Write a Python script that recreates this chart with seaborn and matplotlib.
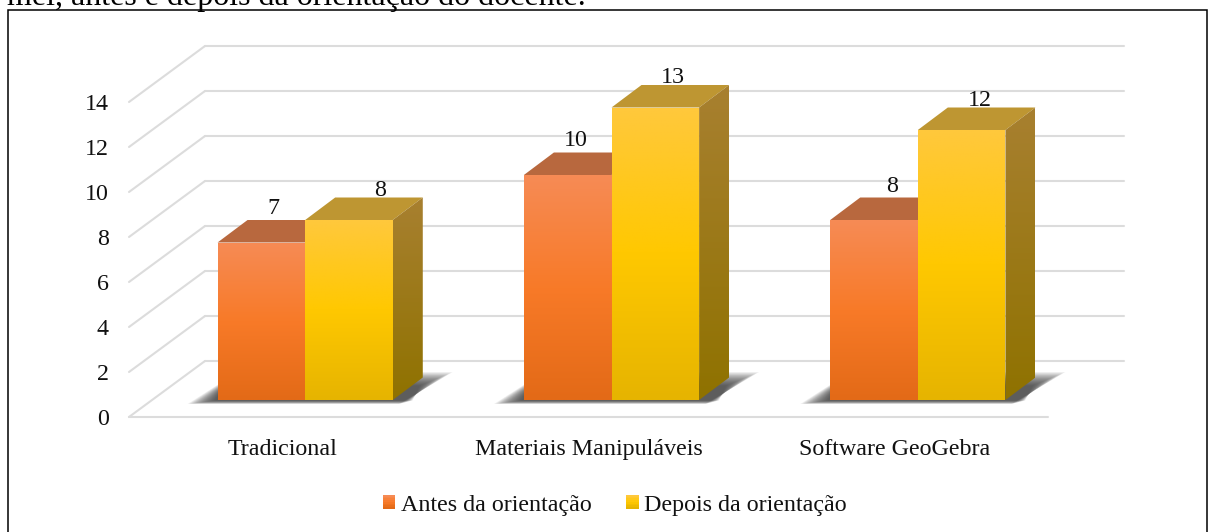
import numpy as np
import pandas as pd
import matplotlib
matplotlib.use('Agg')
import matplotlib.pyplot as plt
from matplotlib.colors import LinearSegmentedColormap
from matplotlib.legend_handler import HandlerBase
from matplotlib.lines import Line2D
from matplotlib.patches import Polygon, Rectangle
from matplotlib.transforms import IdentityTransform
import seaborn as sns

categories = ['Tradicional', 'Materiais Manipuláveis', 'Software GeoGebra']
series_names = ['Antes da orientação', 'Depois da orientação']
antes = [7, 10, 8]
depois = [8, 13, 12]
y_ticks = [0, 2, 4, 6, 8, 10, 12, 14]
caption = 'mel, antes e depois da orientação do docente.'

W, H = 1213, 532
GRID = '#DCDCDC'
FS = 17.3

# depth of the fake 3d box, in pixels
WALL = (76, 56)
BAR_FRONT = (23, 17)
BAR_DEPTH = (30, 22.5)

# front, side and top colours of each series
front_cols = [['#F68B55', '#F87A28', '#E36A17'], ['#FFC83C', '#FFC800', '#E6B400']]
side_cols = [['#B5673C', '#8A4A14'], ['#A88030', '#8F7200']]
top_cols = ['#B8683E', '#BE9632']

# little moves of the value labels
label_shift = [(-3, 6), (-7, 6), (3, 6), (16, 2), (3, 2), (3, 2)]

sns.set_theme(style='white')
plt.rcParams['font.family'] = ['Liberation Serif', 'DejaVu Serif']

df = pd.DataFrame({
    'cat': categories * 2,
    'serie': [series_names[0]] * 3 + [series_names[1]] * 3,
    'valor': antes + depois,
})

fig = plt.figure(figsize=(W / 100, H / 100), dpi=100)
ax = fig.add_axes([129 / W, (H - 417) / H, 919 / W, 315 / H])
ax.patch.set_alpha(0)

sns.barplot(data=df, x='cat', y='valor', hue='serie', palette=[c[1] for c in front_cols],
            width=0.572, gap=0, errorbar=None, legend=False, ax=ax)
ax.set_xlim(-0.5, 2.5)
ax.set_ylim(0, 14)
ax.set_xlabel('')
ax.set_ylabel('')
ax.set_yticks(y_ticks)
sns.despine(ax=ax, left=True, bottom=True)
ax.tick_params(axis='y', length=0, pad=14.5, labelsize=FS, labelcolor='#111111')
ax.tick_params(axis='x', length=0, pad=15.5, labelsize=FS, labelcolor='#111111')


def px(x, v, off=(0, 0)):
    p = ax.transData.transform((x, v))
    return (p[0] + off[0], p[1] + off[1])


def add(a, b):
    return (a[0] + b[0], a[1] + b[1])


def pix_line(a, b, z=1):
    ax.add_line(Line2D([a[0], b[0]], [a[1], b[1]], color=GRID, lw=1.5,
                       transform=IdentityTransform(), clip_on=False, zorder=z))


def gradient_poly(pts, colors, z):
    poly = Polygon(pts, closed=True, fc='none', ec='none', transform=IdentityTransform(), clip_on=False)
    ax.add_patch(poly)
    xs = [p[0] for p in pts]
    ys = [p[1] for p in pts]
    cmap = LinearSegmentedColormap.from_list('g', colors)
    grad = np.linspace(0, 1, 128).reshape(-1, 1)
    im = ax.imshow(grad, cmap=cmap, aspect='auto', origin='upper',
                   extent=(min(xs), max(xs), min(ys), max(ys)),
                   transform=IdentityTransform(), zorder=z)
    # images get cut at the axes box otherwise
    im.set_clip_box(fig.bbox)
    im.set_clip_path(poly)


# back wall, side wall and floor
for v in y_ticks:
    pix_line(px(-0.5, v), px(-0.5, v, WALL))
    pix_line(px(-0.5, v, WALL), px(2.5, v, WALL))
pix_line(px(-0.5, 0), px(2.5, 0))

bars = list(ax.patches)
n_cat = len(categories)
z = 3
for i, bar in enumerate(bars):
    s = i // n_cat
    x0, x1 = bar.get_x(), bar.get_x() + bar.get_width()
    v = bar.get_height()
    bar.set_visible(False)
    bl = px(x0, 0, BAR_FRONT)
    br = px(x1, 0, BAR_FRONT)
    tl = px(x0, v, BAR_FRONT)
    tr = px(x1, v, BAR_FRONT)

    # shadow on the floor, soft edge made of stacked polygons
    if s == 0:
        full = x1 + bar.get_width()
        r = px(full, 0, BAR_FRONT)
        for k in range(24):
            ins = k * 0.6
            ax.add_patch(Polygon([(bl[0] - 30 + ins * 2, bl[1] - 4 + ins * 0.25),
                                  (r[0] + 6 + ins, r[1] - 4 + ins * 0.25),
                                  (r[0] + 60 - ins * 2.4, r[1] + 28 - ins),
                                  (bl[0] + 20 - ins, bl[1] + 28 - ins)],
                                 closed=True, fc='#2E2E2E', ec='none', alpha=0.055,
                                 transform=IdentityTransform(), clip_on=False, zorder=2))

    ax.add_patch(Polygon([tl, tr, add(tr, BAR_DEPTH), add(tl, BAR_DEPTH)], closed=True,
                         fc=top_cols[s], ec='none', transform=IdentityTransform(),
                         clip_on=False, zorder=z))
    gradient_poly([br, tr, add(tr, BAR_DEPTH), add(br, BAR_DEPTH)], side_cols[s], z)
    gradient_poly([bl, br, tr, tl], front_cols[s], z + 1)
    z += 2

    sh = label_shift[i]
    lab = (tl[0] + (tr[0] - tl[0]) / 2 + BAR_DEPTH[0] / 2 + sh[0], tl[1] + BAR_DEPTH[1] + sh[1])
    ax.text(lab[0], lab[1], str(int(v)), transform=IdentityTransform(), ha='center', va='baseline',
            fontsize=FS, color='#111111', zorder=30, clip_on=False)
ax.set_xlim(-0.5, 2.5)
ax.set_ylim(0, 14)


class GradientHandle(HandlerBase):
    def __init__(self, colors):
        super().__init__()
        self.cmap = LinearSegmentedColormap.from_list('h', colors)

    def create_artists(self, legend, orig, xd, yd, width, height, fontsize, trans):
        out = []
        for k in range(8):
            out.append(Rectangle((-xd, -yd + height * (7 - k) / 8), width, height / 8 + 0.1,
                                 fc=self.cmap(k / 7), ec='none', transform=trans))
        return out


h0 = Rectangle((0, 0), 1, 1)
h1 = Rectangle((0, 0), 1, 1)
ax.legend([h0, h1], series_names, handler_map={h0: GradientHandle(front_cols[0]), h1: GradientHandle(front_cols[1])},
          loc='center left', bbox_to_anchor=(383 / W, (H - 505) / H), bbox_transform=fig.transFigure,
          frameon=False, ncol=2, fontsize=FS, borderpad=0, borderaxespad=0,
          handlelength=0.52, handleheight=0.52, handletextpad=0.22, columnspacing=1.45,
          labelcolor='#111111')

# outer frame and the line of body text cut by the top of the picture
fig.add_artist(Rectangle((7.5 / W, -0.02), 1199 / W, (H - 9.5) / H + 0.02, fc='none', ec='black', lw=1.1,
                         transform=fig.transFigure))
fig.text(7 / W, (H - 5) / H, caption, ha='left', va='baseline', fontsize=23, color='black')

fig.savefig('out.png', dpi=100)
